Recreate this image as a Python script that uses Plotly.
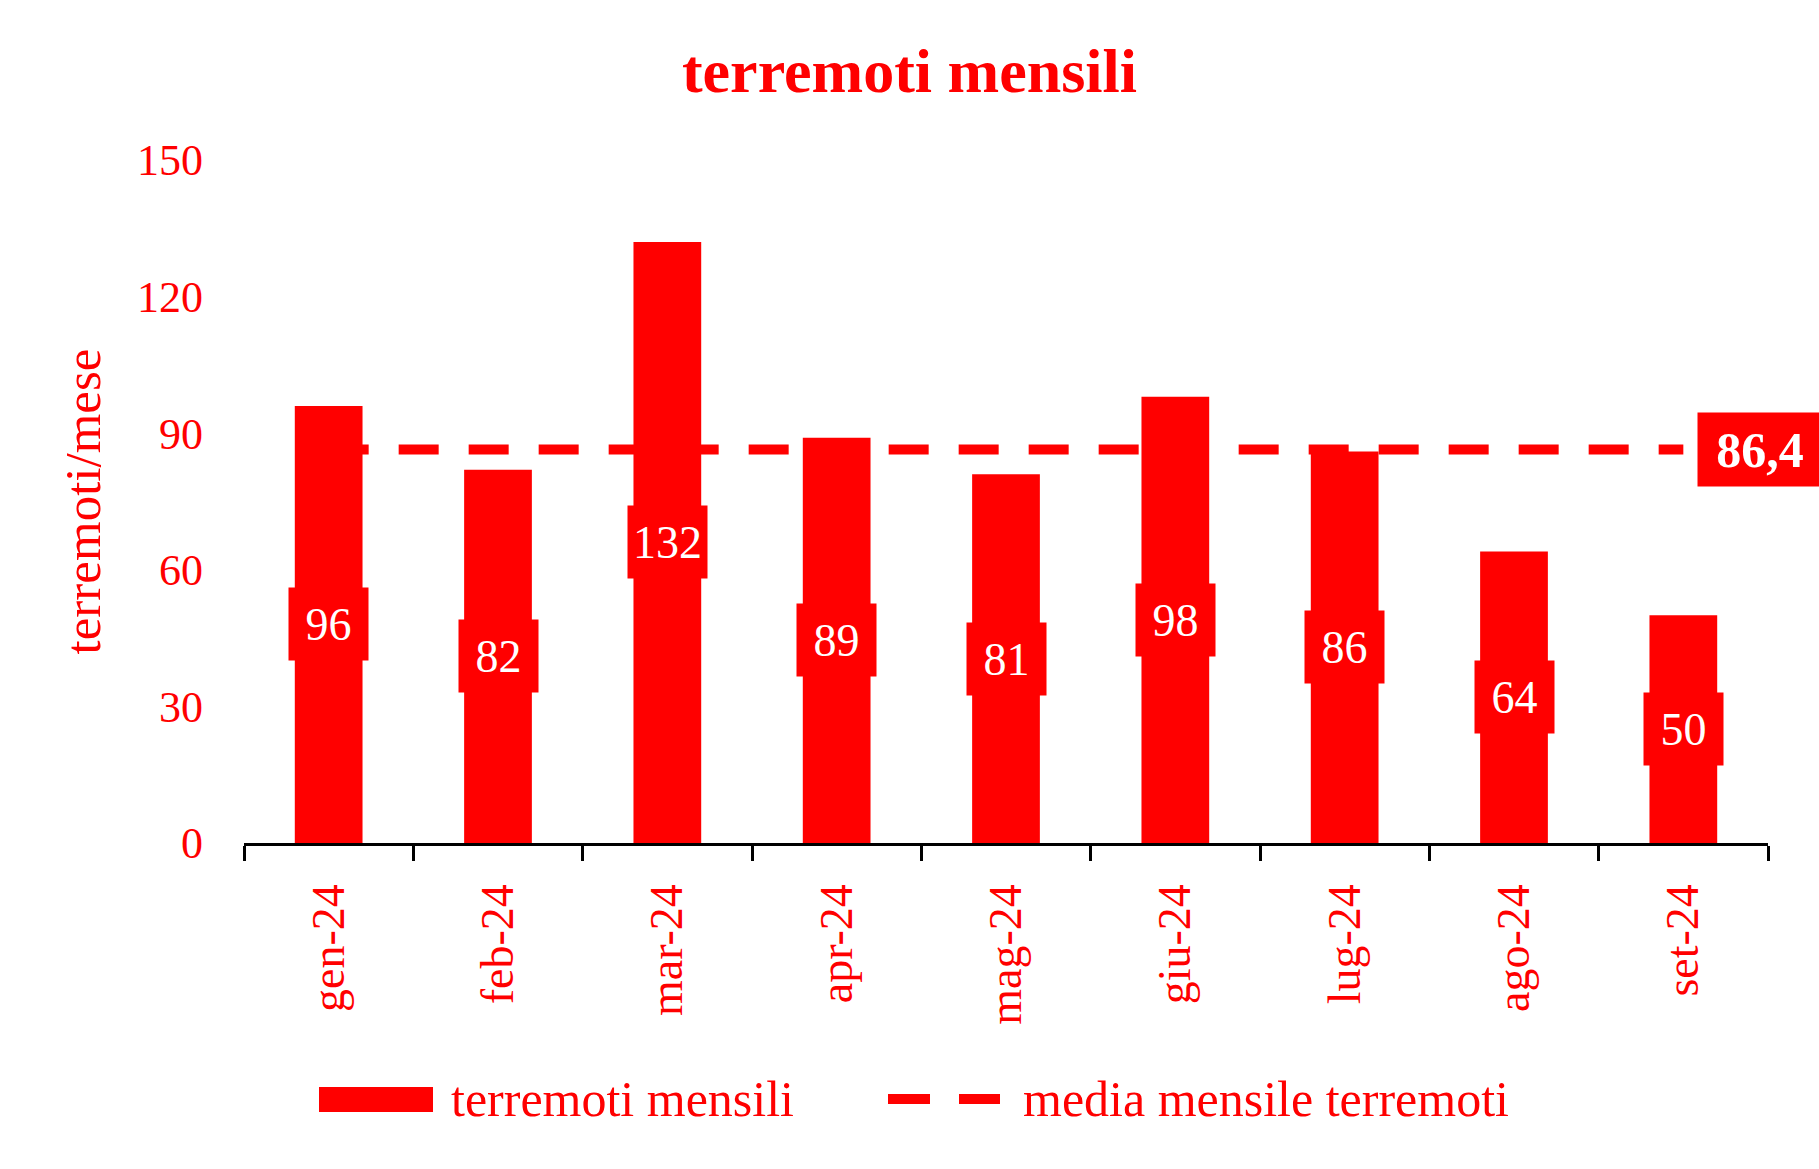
import plotly.graph_objects as go

mesi = ["gen-24", "feb-24", "mar-24", "apr-24", "mag-24", "giu-24", "lug-24", "ago-24", "set-24"]
terremoti = [96, 82, 132, 89, 81, 98, 86, 64, 50]
media = 86.4
y_ticks = [0, 30, 60, 90, 120, 150]
nome_barre = "terremoti mensili"
nome_media = "media mensile terremoti"

RED = "#FF0000"
FONT = "Liberation Serif"

# plot area in pixels (used to place the hand-drawn legend)
W, H = 1819, 1169
L, R, T, B = 244, 51, 160, 326
PW, PH = W - L - R, H - T - B


def px_x(p):
    return (p - L) / PW


def px_y(p):
    return (H - B - p) / PH


fig = go.Figure()

# mean line (behind bars, main subplot)
fig.add_trace(go.Scatter(
    x=mesi, y=[media] * len(mesi), mode="lines",
    name=nome_media,
    line=dict(color=RED, width=10, dash="40px,30px"),
    xaxis="x", yaxis="y", showlegend=False, hoverinfo="skip",
))

# bars on overlaying axis so they sit above the line
fig.add_trace(go.Bar(
    x=mesi, y=terremoti, name=nome_barre,
    marker=dict(color=RED, line=dict(width=0)),
    xaxis="x", yaxis="y2", showlegend=False,
))

annotations = []
for m, v in zip(mesi, terremoti):
    annotations.append(dict(
        x=m, y=v / 2, xref="x", yref="y", text=str(v), showarrow=False,
        bgcolor=RED, width=77, height=70,
        font=dict(family=FONT, size=46, color="white"),
        xanchor="center", yanchor="middle",
    ))
annotations.append(dict(
    x=mesi[-1], y=media, xref="x", yref="y",
    text="<b>" + f"{media:.1f}".replace(".", ",") + "</b>",
    showarrow=False, bgcolor=RED, width=122, height=71,
    font=dict(family=FONT, size=50, color="white"),
    xanchor="left", yanchor="middle", xshift=14,
))

# hand-made legend (to get the wide bar swatch)
leg_y = 1099
annotations.append(dict(
    x=px_x(449), y=px_y(leg_y), xref="paper", yref="paper", text=nome_barre,
    showarrow=False, xanchor="left", yanchor="middle",
    font=dict(family=FONT, size=50, color=RED),
))
annotations.append(dict(
    x=px_x(1021), y=px_y(leg_y), xref="paper", yref="paper", text=nome_media,
    showarrow=False, xanchor="left", yanchor="middle",
    font=dict(family=FONT, size=50, color=RED),
))
shapes = [
    dict(type="rect", xref="paper", yref="paper",
         x0=px_x(319), x1=px_x(433), y0=px_y(1112), y1=px_y(1087),
         fillcolor=RED, line=dict(width=0)),
    dict(type="line", xref="paper", yref="paper",
         x0=px_x(888), x1=px_x(930), y0=px_y(leg_y), y1=px_y(leg_y),
         line=dict(color=RED, width=10)),
    dict(type="line", xref="paper", yref="paper",
         x0=px_x(959), x1=px_x(1000), y0=px_y(leg_y), y1=px_y(leg_y),
         line=dict(color=RED, width=10)),
]

fig.update_layout(
    width=W, height=H,
    margin=dict(l=L, r=R, t=T, b=B),
    paper_bgcolor="white", plot_bgcolor="white",
    font=dict(family=FONT, color=RED, size=44),
    showlegend=False,
    title=dict(text="<b>terremoti mensili</b>", x=0.5, xanchor="center",
               y=1 - 70 / H, yanchor="middle", yref="container",
               font=dict(family=FONT, size=62, color=RED)),
    bargap=0.6,
    xaxis=dict(
        type="category", categoryorder="array", categoryarray=mesi,
        range=[-0.5, len(mesi) - 0.5],
        showgrid=False, showline=True, linecolor="black", linewidth=2.5,
        ticks="outside", tickson="boundaries", ticklen=15, tickwidth=2.5, tickcolor="black",
        tickangle=-90, tickfont=dict(family=FONT, size=46, color=RED),
        ticklabelstandoff=20, zeroline=False,
    ),
    yaxis=dict(
        range=[0, 150], tickvals=y_ticks, showgrid=False, showline=False, zeroline=False,
        ticks="", tickfont=dict(family=FONT, size=44, color=RED), ticklabelstandoff=40,
        title=dict(text="terremoti/mese", font=dict(family=FONT, size=51, color=RED), standoff=20),
    ),
    yaxis2=dict(range=[0, 150], overlaying="y", visible=False),
    annotations=annotations,
    shapes=shapes,
)

fig.write_html("out.html")
